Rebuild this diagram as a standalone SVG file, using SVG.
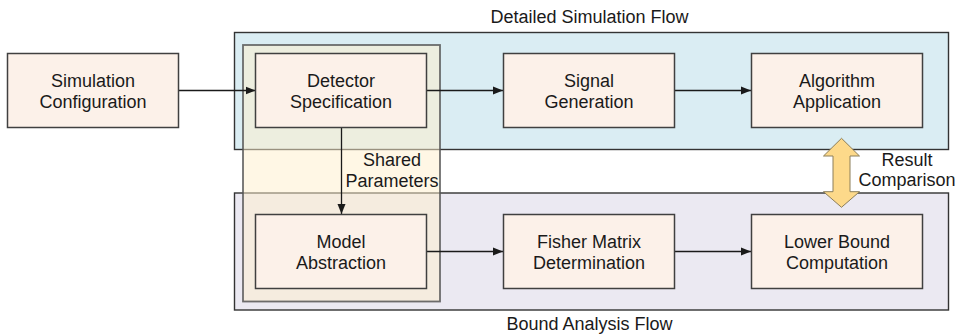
<svg xmlns="http://www.w3.org/2000/svg" width="957" height="336" viewBox="0 0 957 336">
<defs>
<style>
.node rect{fill:#fcf1e9;stroke:#404040;stroke-width:1.5}
.lbl{font-family:"Liberation Sans",Arial,sans-serif;font-size:18px;fill:#1a1a1a;text-anchor:middle}
.cl{stroke:#333;stroke-width:1.4}
.edge{stroke:#1a1a1a;stroke-width:1.3;fill:none;marker-end:url(#ah)}
</style>
<marker id="ah" viewBox="0 0 10 10" refX="10" refY="5" markerWidth="10" markerHeight="10" markerUnits="userSpaceOnUse" orient="auto">
<path d="M0,1 L10,5 L0,9 Z" fill="#1a1a1a"/>
</marker>
</defs>
<rect width="957" height="336" fill="#fff"/>
<g id="cluster-sim">
<rect class="cl" x="234.5" y="32.5" width="714" height="117" fill="#daedf3"/>
<text class="lbl" x="589.5" y="23">Detailed Simulation Flow</text>
</g>
<g id="cluster-bound">
<rect class="cl" x="234.5" y="193" width="714" height="117" fill="#ebe9f2"/>
<text class="lbl" x="589.5" y="330">Bound Analysis Flow</text>
</g>
<g id="cluster-shared">
<rect x="243" y="45" width="197" height="256.5" fill="#fff0cc" fill-opacity="0.5" stroke="#555" stroke-width="1.8" stroke-opacity="0.85"/>
<text class="lbl" x="392" y="166">Shared</text>
<text class="lbl" x="392" y="187">Parameters</text>
</g>
<g id="connectors">
<line class="edge" x1="179" y1="90.5" x2="255.5" y2="90.5"/>
<line class="edge" x1="427" y1="90.5" x2="503" y2="90.5"/>
<line class="edge" x1="674.5" y1="90.5" x2="751" y2="90.5"/>
<line class="edge" x1="341.5" y1="127.5" x2="341.5" y2="214"/>
<line class="edge" x1="427" y1="251.5" x2="503" y2="251.5"/>
<line class="edge" x1="674.5" y1="251.5" x2="751" y2="251.5"/>
<polygon points="841.5,138.3 859.5,156 850,156 850,191.7 859.5,191.7 841.5,207.3 823.5,191.7 833,191.7 833,156 823.5,156" fill="#fdd98a" stroke="#8c7e5a" stroke-width="1"/>
<text class="lbl" x="907" y="166">Result</text>
<text class="lbl" x="907" y="186">Comparison</text>
</g>
<g id="n-config" class="node">
<rect x="7.5" y="53.5" width="171" height="74"/>
<text class="lbl" x="93" y="87">Simulation</text>
<text class="lbl" x="93" y="108">Configuration</text>
</g>
<g id="n-detector" class="node">
<rect x="255.5" y="53.5" width="171" height="74"/>
<text class="lbl" x="341" y="87">Detector</text>
<text class="lbl" x="341" y="108">Specification</text>
</g>
<g id="n-signal" class="node">
<rect x="503.5" y="53.5" width="171" height="74"/>
<text class="lbl" x="589" y="87">Signal</text>
<text class="lbl" x="589" y="108">Generation</text>
</g>
<g id="n-algorithm" class="node">
<rect x="751.5" y="53.5" width="171" height="74"/>
<text class="lbl" x="837" y="87">Algorithm</text>
<text class="lbl" x="837" y="108">Application</text>
</g>
<g id="n-model" class="node">
<rect x="255.5" y="214.5" width="171" height="74"/>
<text class="lbl" x="341" y="248">Model</text>
<text class="lbl" x="341" y="269">Abstraction</text>
</g>
<g id="n-fisher" class="node">
<rect x="503.5" y="214.5" width="171" height="74"/>
<text class="lbl" x="589" y="248">Fisher Matrix</text>
<text class="lbl" x="589" y="269">Determination</text>
</g>
<g id="n-lower" class="node">
<rect x="751.5" y="214.5" width="171" height="74"/>
<text class="lbl" x="837" y="248">Lower Bound</text>
<text class="lbl" x="837" y="269">Computation</text>
</g>
</svg>
